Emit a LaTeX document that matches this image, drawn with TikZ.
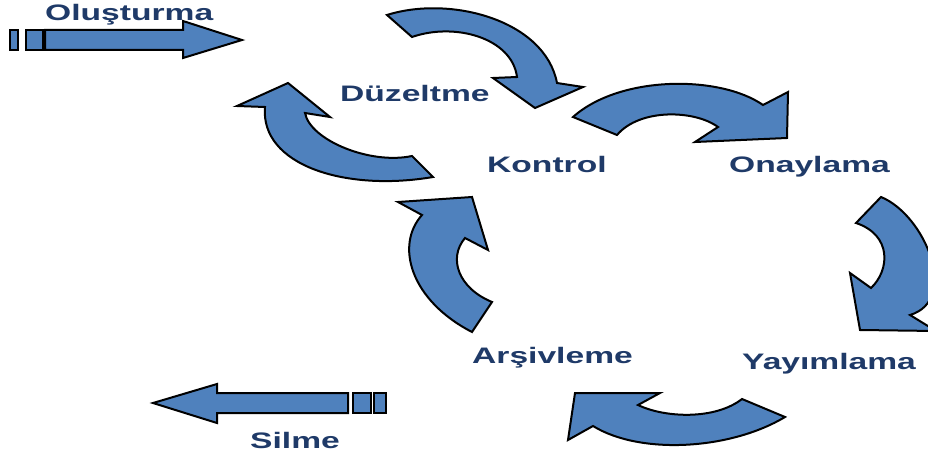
\documentclass[tikz,border=0pt]{standalone}
\usepackage{fontspec}
\newfontfamily\lblfont{Liberation Sans}[FakeStretch=1.5]
\definecolor{blockblue}{HTML}{4F81BD}
\definecolor{labelblue}{HTML}{1F3A68}
\begin{document}
\begin{tikzpicture}[x=1pt,y=-1pt,
  blockarrow/.style={fill=blockblue,draw=black,line width=2pt},
  stagelabel/.style={anchor=base west,inner sep=0pt,text=labelblue,
    font=\lblfont\bfseries\fontsize{22.4}{26}\selectfont}]
\useasboundingbox (0,0) rectangle (928,457);
\clip (0,0) rectangle (928,457);

% stage labels
\node[stagelabel] (olus) at (45,21) {Oluşturma};
\node[stagelabel] (duz) at (340,102) {Düzeltme};
\node[stagelabel] (kon) at (487,172) {Kontrol};
\node[stagelabel] (ona) at (729,172) {Onaylama};
\node[stagelabel] (yay) at (742,369) {Yayımlama};
\node[stagelabel] (ars) at (472,363) {Arşivleme};
\node[stagelabel] (sil) at (250,448) {Silme};

% entry arrow (creation)
\filldraw[blockarrow] (10,30) rectangle (18,50);
\filldraw[blockarrow] (26,30) rectangle (43,50);
\filldraw[blockarrow] (45,30) -- (183,30) -- (183,21) -- (242,40)
  -- (183,58) -- (183,50) -- (45,50) -- cycle;

% exit arrow (deletion)
\filldraw[blockarrow] (353,393) rectangle (371,413);
\filldraw[blockarrow] (374,393) rectangle (386,413);
\filldraw[blockarrow] (348,393) -- (217,393) -- (217,384) -- (153,403)
  -- (217,423) -- (217,413) -- (348,413) -- cycle;

% correction -> control
\filldraw[blockarrow] (387,15) .. controls (450,-5) and (545,20) .. (557,83)
  -- (583,87) -- (535,108) -- (493,78) -- (517,77)
  .. controls (512,38) and (455,22) .. (412,37) -- cycle;

% control -> approval
\filldraw[blockarrow] (573,117) .. controls (620,75) and (720,75) .. (763,105)
  -- (788,92) -- (787,138) -- (695,142) -- (718,127)
  .. controls (695,110) and (640,108) .. (617,135) -- cycle;

% approval -> publishing
\filldraw[blockarrow] (881,197) .. controls (925,215) and (960,300) .. (910,315)
  -- (936,331) -- (860,330) -- (850,273) -- (871,288)
  .. controls (890,270) and (892,235) .. (856,223) -- cycle;

% publishing -> archiving
\filldraw[blockarrow] (742,399) -- (785,417)
  .. controls (730,450) and (640,455) .. (593,426)
  -- (568,440) -- (575,393) -- (660,393) -- (638,405)
  .. controls (665,418) and (715,420) .. (742,399) -- cycle;

% archiving -> control
\filldraw[blockarrow] (398,202) -- (472,197) -- (488,250) -- (465,238)
  .. controls (448,258) and (458,288) .. (492,302)
  -- (472,332)
  .. controls (410,300) and (395,245) .. (422,215) -- cycle;

% control -> correction
\filldraw[blockarrow] (288,83) -- (237,106) -- (265,107)
  .. controls (260,165) and (345,192) .. (433,177)
  -- (412,156)
  .. controls (370,165) and (310,140) .. (305,113)
  -- (330,117) -- cycle;
\end{tikzpicture}
\end{document}
